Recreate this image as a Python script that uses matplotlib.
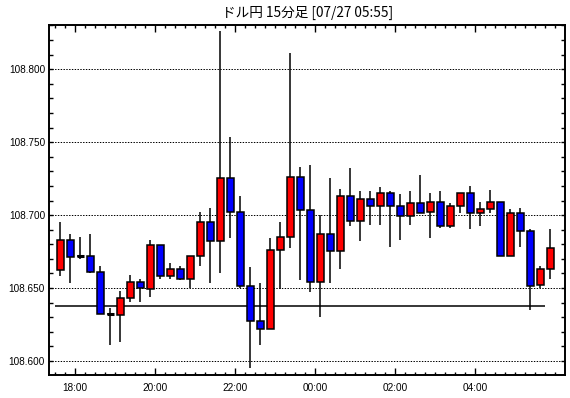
import matplotlib
matplotlib.use("Agg")
import matplotlib.pyplot as plt
import numpy as np
from matplotlib.ticker import MultipleLocator, FixedLocator

title = "ドル円 15分足 [07/27 05:55]"

opens = [108.6623, 108.6829, 108.6717, 108.6719, 108.6610, 108.6320, 108.6315, 108.6432, 108.6541, 108.6493,
         108.6795, 108.6582, 108.6632, 108.6562, 108.6719, 108.6952, 108.6822, 108.7253, 108.7021, 108.6511,
         108.6272, 108.6219, 108.6760, 108.6849, 108.7260, 108.7034, 108.6541, 108.6870, 108.6753, 108.7130,
         108.6959, 108.7110, 108.7062, 108.7151, 108.7062, 108.6993, 108.7082, 108.7021, 108.7089, 108.6925,
         108.7062, 108.7151, 108.7014, 108.7041, 108.7089, 108.6719, 108.7014, 108.6890, 108.6521, 108.6630]
highs = [108.6954, 108.6870, 108.6849, 108.6872, 108.6653, 108.6361, 108.6482, 108.6589, 108.6564, 108.6831,
         108.6795, 108.6674, 108.6653, 108.6719, 108.7023, 108.7050, 108.8263, 108.7537, 108.7132, 108.6646,
         108.6534, 108.6842, 108.6954, 108.8114, 108.7331, 108.7345, 108.7000, 108.7256, 108.7178, 108.7324,
         108.7164, 108.7164, 108.7192, 108.7164, 108.7144, 108.7164, 108.7276, 108.7151, 108.7164, 108.7082,
         108.7151, 108.7199, 108.7089, 108.7171, 108.7089, 108.7041, 108.7048, 108.6904, 108.6651, 108.6904]
lows = [108.6580, 108.6534, 108.6699, 108.6600, 108.6322, 108.6107, 108.6128, 108.6402, 108.6402, 108.6436,
        108.6559, 108.6559, 108.6553, 108.6500, 108.6648, 108.6534, 108.6600, 108.6840, 108.6500, 108.5952,
        108.6107, 108.6219, 108.6493, 108.6772, 108.6553, 108.6470, 108.6299, 108.6534, 108.6630, 108.6922,
        108.6822, 108.6929, 108.6929, 108.6779, 108.6826, 108.6929, 108.7014, 108.6840, 108.6911, 108.6911,
        108.7014, 108.6904, 108.6925, 108.7014, 108.6719, 108.6719, 108.6779, 108.6349, 108.6500, 108.6562]
closes = [108.6829, 108.6710, 108.6717, 108.6610, 108.6322, 108.6320, 108.6432, 108.6541, 108.6500, 108.6795,
          108.6582, 108.6632, 108.6562, 108.6719, 108.6952, 108.6822, 108.7253, 108.7021, 108.6511, 108.6272,
          108.6219, 108.6760, 108.6849, 108.7260, 108.7034, 108.6541, 108.6870, 108.6753, 108.7130, 108.6959,
          108.7110, 108.7062, 108.7151, 108.7062, 108.6993, 108.7082, 108.7014, 108.7089, 108.6925, 108.7062,
          108.7151, 108.7014, 108.7041, 108.7089, 108.6719, 108.7014, 108.6890, 108.6514, 108.6630, 108.6774]

ref_level = 108.6374
hour_labels = ["18:00", "20:00", "22:00", "00:00", "02:00", "04:00"]

o = np.array(opens); h = np.array(highs); l = np.array(lows); c = np.array(closes)
n = len(o)
x = np.arange(n)

fig = plt.figure(figsize=(5.70, 3.98), dpi=100)
L, R, T, B = 49.3, 565.3, 24.7, 374.7
ax = fig.add_axes([L/570, 1-B/398, (R-L)/570, (B-T)/398])

px = 0.72  # one pixel in points

# grid
for v in np.arange(108.60, 108.81, 0.05):
    ax.axhline(v, color="black", lw=px, ls=(0, (1.4, 1.4)), zorder=1)

# reference line
ax.hlines(ref_level, -0.5, n - 1.5, color="black", lw=1.1, zorder=2)

# wicks
ax.vlines(x, l, h, color="black", lw=1.1, zorder=3)

colors = np.where(c > o, "#ff0000", np.where(c < o, "#0000ff", "black"))
heights = c - o
ax.bar(x, heights, bottom=o, width=0.68, color=colors, edgecolor="black",
       linewidth=1.1, zorder=4)
# doji
doji = c == o
if doji.any():
    ax.hlines(o[doji], x[doji] - 0.34, x[doji] + 0.34, color="black", lw=2.2, zorder=5)

ax.set_xlim(-1.1, n + 0.5)
ax.set_ylim(108.5906, 108.8305)

# ticks
yt = np.arange(108.60, 108.81, 0.05)
ax.yaxis.set_major_locator(FixedLocator(yt))
ax.yaxis.set_minor_locator(MultipleLocator(0.01))
ax.set_yticklabels([f"{v:.3f}" for v in yt], family="Liberation Sans", fontsize=7.2)
major_x = 1.5 + 8 * np.arange(len(hour_labels))
ax.xaxis.set_major_locator(FixedLocator(major_x))
ax.xaxis.set_minor_locator(FixedLocator(np.arange(-0.5, n + 0.5, 1.0)))
ax.set_xticklabels(hour_labels, family="Liberation Sans", fontsize=7.2)

ax.tick_params(axis="both", which="both", direction="in", color="black",
               width=1.0, top=True, right=True, labelcolor="black")
ax.tick_params(axis="x", which="major", length=5, pad=6)
ax.tick_params(axis="x", which="minor", length=2.5)
ax.tick_params(axis="y", which="major", length=3, pad=3)
ax.tick_params(axis="y", which="minor", length=3)

for s in ax.spines.values():
    s.set_linewidth(1.4)
    s.set_color("black")

fig.text((L+R)/2/570, 1-13/398, title, ha="center", va="center", fontsize=9.8,
         family=["Noto Sans CJK JP", "DejaVu Sans"])

fig.savefig("out.png", dpi=100)
